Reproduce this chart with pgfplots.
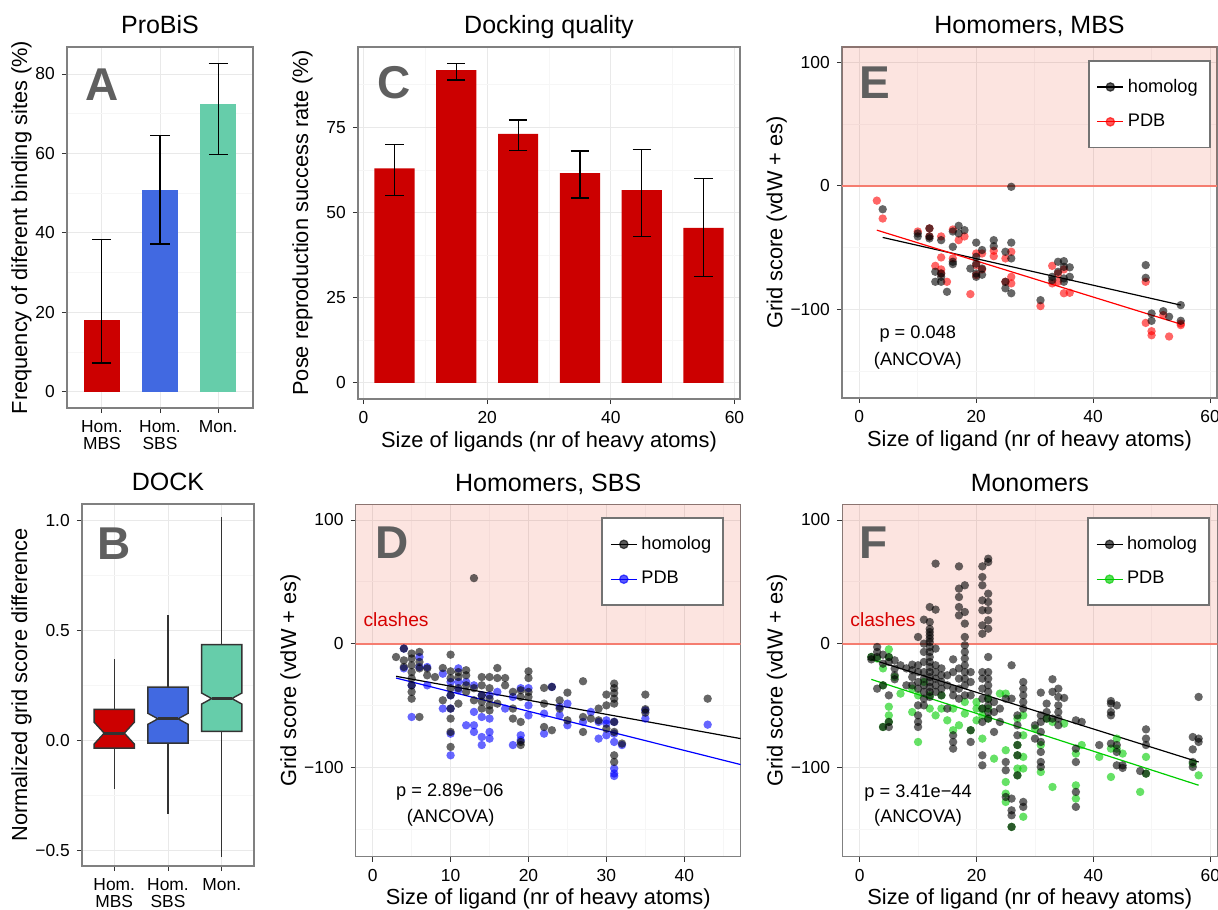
\documentclass[border=0pt]{standalone}
\usepackage{fontspec}
\setmainfont{Liberation Sans}
\usepackage{pgfplots}
\pgfplotsset{compat=1.18}

\definecolor{barred}{HTML}{CC0000}
\definecolor{boxblue}{HTML}{4169E1}
\definecolor{boxgreen}{HTML}{66CDAA}
\definecolor{clashbase}{RGB}{230,30,0}
\definecolor{clashline}{RGB}{245,125,112}
\definecolor{clashtext}{RGB}{214,0,0}
\definecolor{gridmaj}{RGB}{233,233,233}
\definecolor{gridmin}{RGB}{246,246,246}
\definecolor{pdbgreen}{RGB}{0,205,0}
\definecolor{letter}{RGB}{95,95,95}

\newcommand{\tickfont}{\fontsize{8.7}{8.8}\selectfont}
\newcommand{\labfont}{\fontsize{10.9}{12}\selectfont}
\newcommand{\titfont}{\fontsize{12.5}{14}\selectfont}
\newcommand{\annfont}{\fontsize{9.1}{10}\selectfont}
\newcommand{\bigfont}{\fontsize{23}{23}\selectfont\bfseries}

\pgfplotsset{
  gg/.style={
    scale only axis, anchor=south west,
    axis line style={draw=black!50, line width=0.6pt},
    tick pos=left,
    tick align=outside, major tick length=2.6pt, minor tick length=0pt,
    major tick style={draw=black!80, line width=0.5pt},
    tick label style={font=\tickfont, text=black},
    /pgf/number format/assume math mode=true,
    label style={font=\labfont},
    xlabel style={yshift=3pt},
    every axis title shift=0pt,
    title style={font=\titfont, at={(0.5,1)}, anchor=base, yshift=6.5pt},
    grid=both,
    major grid style={draw=gridmaj, line width=0.5pt},
    minor grid style={draw=gridmin, line width=0.4pt},
  },
  score/.style={gg,
    ylabel style={yshift=-5pt},
    ymin=-172.3, ymax=112.7,
    ytick={-100,0,100}, yticklabels={−100,0,100}, minor ytick={-150,-50,50},
    xlabel={Size of ligand (nr of heavy atoms)},
    ylabel={Grid score (vdW + es)},
    legend cell align=left,
    legend style={draw=black!55, line width=0.9pt, fill=white, font=\annfont,
      inner xsep=4pt, inner ysep=7pt, row sep=5.5pt, anchor=north east},
    legend image code/.code={
      \draw[##1, line width=0.6pt] (0pt,0pt) -- (13pt,0pt);
      \fill[##1, opacity=0.65] (6.5pt,0pt) circle (2.1pt);
    },
  },
  pts/.style={only marks, mark=*, mark size=2.1pt, color=#1,
    mark options={solid, fill=#1, fill opacity=0.6, draw opacity=0}, forget plot},
  reg/.style={#1, line width=0.6pt, mark=none},
  errs/.style={draw=none, mark=none, forget plot,
    error bars/.cd, y dir=both, y explicit, error mark=|,
    error bar style={draw=black, line width=0.6pt},
    error mark options={draw=black, line width=0.6pt, mark size=#1}},
}

\begin{document}
\begin{tikzpicture}
\path[use as bounding box] (0,0) rectangle (609pt,454.5pt);

% ---------------- A: ProBiS
\begin{axis}[gg, at={(33.5pt,250.5pt)}, width=93pt, height=180.5pt,
  ylabel style={yshift=-5pt},
  xmin=0.4, xmax=3.6, ymin=-4.1, ymax=86.8,
  xtick={1,2,3}, xticklabels={{Hom.\\MBS},{Hom.\\SBS},{Mon.}},
  xticklabel style={align=center},
  ytick={0,20,40,60,80}, minor ytick={10,30,50,70},
  ylabel={Frequency of diferent binding sites (\%)}, title={ProBiS}]
\addplot[ybar, bar width=0.63, bar shift=0pt, fill=barred, draw=none] coordinates {(1,18.1)};
\addplot[ybar, bar width=0.63, bar shift=0pt, fill=boxblue, draw=none] coordinates {(2,50.9)};
\addplot[ybar, bar width=0.63, bar shift=0pt, fill=boxgreen, draw=none] coordinates {(3,72.4)};
\addplot[errs=4.8pt] table[x=x, y=y, y error plus=ep, y error minus=em] {
x y    ep   em
1 18.1 20.3 10.85
2 50.9 13.6 13.7
3 72.4 10.3 12.7
};
\node[font=\bigfont, text=letter] at (rel axis cs:0.187,0.895) {A};
\end{axis}

% ---------------- C: Docking quality
\begin{axis}[gg, at={(179pt,255pt)}, width=191pt, height=176pt,
  xmin=-0.9, xmax=60.9, ymin=-4.7, ymax=98.6,
  xtick={0,20,40,60}, minor xtick={10,30,50},
  ytick={0,25,50,75}, minor ytick={12.5,37.5,62.5,87.5},
  xlabel={Size of ligands (nr of heavy atoms)},
  ylabel={Pose reproduction success rate (\%)}, title={Docking quality}]
\addplot[ybar, bar width=6.5, bar shift=0pt, fill=barred, draw=none] coordinates {
  (5,63.0) (15,91.8) (25,73.1) (35,61.6) (45,56.6) (55,45.5)};
\addplot[errs=4.6pt] table[x=x, y=y, y error plus=ep, y error minus=em] {
x  y    ep   em
5  63.0 7.1  8.0
15 91.8 2.0  2.9
25 73.1 4.1  4.9
35 61.6 6.5  7.3
45 56.6 12.0 13.5
55 45.5 14.5 14.3
};
\node[font=\bigfont, text=letter] at (rel axis cs:0.094,0.90) {C};
\end{axis}

% ---------------- E: Homomers, MBS
\begin{axis}[score, at={(421pt,255.5pt)}, width=187.5pt, height=175.5pt,
  xmin=-2.96, xmax=61.2, ymin=-171.8, ymax=112.4,
  xtick={0,20,40,60}, minor xtick={10,30,50},
  legend style={at={(0.983,0.963)}},
  title={Homomers, MBS}]
\addplot[draw=none, fill=clashbase, fill opacity=0.12, forget plot] coordinates {(-5,0) (65,0) (65,130) (-5,130)} -- cycle;
\addplot[clashline, line width=0.9pt, forget plot] coordinates {(-5,0) (65,0)};
\addplot[pts=red] coordinates {
(3,-12) (4,-26.5) (10,-37) (12,-34.5) (12,-41) (13,-64.8) (14,-41) (14,-58) (14,-67.7) (14,-71)
(15,-77.7) (16,-35.4) (16,-58.8) (17,-44) (18,-41) (19,-87.7) (20,-54.8) (20,-64.2) (20,-72.3)
(21,-54.8) (21,-67.7) (23,-52.6) (23,-57) (25,-58.8) (25,-77.7) (26,-53.4) (26,-73.7) (26,-79)
(31,-97.4) (33,-64.8) (33,-79) (34,-71) (34,-77.7) (35,-87) (35,-67.7) (36,-86.6) (49,-77.7)
(49,-111) (50,-117.7) (50,-121) (52,-104.7) (53,-122) (55,-112.8) (55,-111.5)};
\addplot[pts=black] coordinates {
(4,-19) (26,-0.8) (10,-41) (10,-38.6) (12,-34.5) (12,-41) (12,-42.6) (13,-69.6) (13,-77.7)
(14,-44) (14,-71) (14,-73.7) (14,-77.7) (15,-85.8) (16,-49.4) (16,-61.5) (16,-63.4) (16,-37)
(17,-32.4) (17,-38.6) (18,-35.9) (19,-67) (20,-46) (20,-57.5) (20,-63) (20,-71) (20,-73.7)
(21,-52) (21,-67) (21,-72) (23,-44) (23,-48.9) (25,-53.4) (25,-77.7) (25,-83) (26,-46)
(26,-58.8) (26,-87) (31,-92.6) (33,-73.7) (33,-76.4) (34,-61.5) (34,-69.6) (35,-61) (35,-65.6)
(35,-77.7) (35,-75) (36,-66) (36,-73.7) (49,-64.2) (49,-74.5) (50,-103.4) (50,-109.3)
(52,-101.5) (53,-106) (55,-96.6) (55,-109.3)};
\addplot[reg=black] coordinates {(4,-41.8) (55,-96.6)};
\addlegendentry{homolog}
\addplot[reg=red] coordinates {(3,-35.9) (55,-112)};
\addlegendentry{PDB}
\node[font=\annfont] at (axis cs:10,-120) {p = 0.048};
\node[font=\annfont] at (axis cs:10,-141.5) {(ANCOVA)};
\node[font=\bigfont, text=letter] at (rel axis cs:0.088,0.897) {E};
\end{axis}

% ---------------- B: DOCK
\begin{axis}[gg, at={(41pt,21.5pt)}, width=86pt, height=181pt,
  ylabel style={yshift=-5pt},
  xmin=0.4, xmax=3.6, ymin=-0.57, ymax=1.073,
  xtick={1,2,3}, xticklabels={{Hom.\\MBS},{Hom.\\SBS},{Mon.}},
  xticklabel style={align=center},
  ytick={-0.5,0,0.5,1}, yticklabels={−0.5,0.0,0.5,1.0},
  minor ytick={-0.25,0.25,0.75},
  ylabel={Normalized grid score difference}, title={DOCK}]
\addplot[black!80, line width=0.6pt] coordinates {(1,-0.22) (1,0.371)};
\addplot[black!80, line width=0.6pt] coordinates {(2,-0.333) (2,0.57)};
\addplot[black!80, line width=0.6pt] coordinates {(3,-0.527) (3,1.015)};
\addplot[fill=barred, draw=black!80, line width=0.7pt] coordinates {
  (0.625,-0.035) (0.625,-0.017) (0.8125,0.033) (0.625,0.083) (0.625,0.141)
  (1.375,0.141) (1.375,0.083) (1.1875,0.033) (1.375,-0.017) (1.375,-0.035)} -- cycle;
\addplot[fill=boxblue, draw=black!80, line width=0.7pt] coordinates {
  (1.625,-0.012) (1.625,0.073) (1.8125,0.098) (1.625,0.123) (1.625,0.242)
  (2.375,0.242) (2.375,0.123) (2.1875,0.098) (2.375,0.073) (2.375,-0.012)} -- cycle;
\addplot[fill=boxgreen, draw=black!80, line width=0.7pt] coordinates {
  (2.625,0.041) (2.625,0.165) (2.8125,0.19) (2.625,0.215) (2.625,0.435)
  (3.375,0.435) (3.375,0.215) (3.1875,0.19) (3.375,0.165) (3.375,0.041)} -- cycle;
\addplot[black!80, line width=1.4pt] coordinates {(0.8125,0.033) (1.1875,0.033)};
\addplot[black!80, line width=1.4pt] coordinates {(1.8125,0.098) (2.1875,0.098)};
\addplot[black!80, line width=1.4pt] coordinates {(2.8125,0.19) (3.1875,0.19)};
\node[font=\bigfont, text=letter] at (rel axis cs:0.188,0.89) {B};
\end{axis}

% ---------------- D: Homomers, SBS
\begin{axis}[score, at={(177.85pt,26.15pt)}, width=192.5pt, height=176.2pt,
  xmin=-2.18, xmax=47.24,
  xtick={0,10,20,30,40}, minor xtick={5,15,25,35,45},
  legend style={at={(0.957,0.963)}},
  title={Homomers, SBS}]
\addplot[draw=none, fill=clashbase, fill opacity=0.12, forget plot] coordinates {(-5,0) (50,0) (50,130) (-5,130)} -- cycle;
\addplot[clashline, line width=0.9pt, forget plot] coordinates {(-5,0) (50,0)};
\addplot[pts=blue] coordinates {
(4,-4) (4,-20) (5,-33.7) (5,-59.3) (6,-10.8) (6,-18.9) (7,-18.9) (7,-33.7) (9,-24.3) (9,-52.5)
(10,-31) (10,-41.8) (10,-52.5) (10,-72.8) (10,-90.3) (11,-20) (11,-31) (11,-37.7) (12,-31) (12,-66)
(13,-33.7) (13,-55.2) (13,-66) (13,-71.4) (14,-41.8) (14,-59.3) (14,-75.5) (14,-82) (15,-41.8)
(15,-60.6) (15,-71.4) (15,-76.8) (16,-39) (17,-52.5) (18,-43.1) (18,-82) (19,-36) (19,-74.1)
(19,-78) (20,-36) (20,-49.9) (20,-58) (22,-56.6) (22,-72.8) (23,-35) (24,-51) (24,-58) (25,-48.5)
(25,-66) (27,-63.3) (28,-55.2) (29,-63.3) (29,-76.8) (30,-62) (30,-64.7) (30,-74.1) (31,-63.3)
(31,-72.8) (31,-79.5) (31,-101) (31,-105) (31,-107) (32,-82) (35,-60.6) (35,-54) (43,-65.5)};
\addplot[pts=black] coordinates {
(3,-10.8) (4,-4) (4,-13.5) (4,-18.9) (5,-8) (5,-12) (5,-17.5) (5,-23) (5,-28) (5,-33.7) (5,-39)
(5,-44.5) (6,-59.3) (6,-6.7) (6,-14.8) (6,-20) (7,-20) (7,-25.6) (8,-27) (9,-19.7) (9,-45.8)
(10,-8.9) (10,-22.4) (10,-28) (10,-36) (10,-41.8) (10,-52.5) (10,-60.6) (10,-71.4) (10,-83.5)
(11,-23) (11,-27) (11,-36) (11,-48.5) (12,-21.5) (12,-25.6) (12,-33.7) (12,-39) (13,-36)
(13,-45.8) (13,53) (14,-27) (14,-33.7) (14,-41.8) (14,-47) (14,-52.5) (15,-27) (15,-36)
(15,-44.5) (15,-49.9) (15,-54) (16,-19.7) (16,-27.8) (16,-48.5) (17,-27.8) (17,-33.7) (18,-39)
(18,-52.5) (18,-60.6) (19,-37.7) (19,-43.1) (19,-63.3) (19,-79.5) (19,-82) (20,-22.4) (20,-27.8)
(20,-39) (20,-43.1) (22,-35.8) (22,-48.5) (22,-67.4) (23,-70) (23,-35) (24,-45.8) (24,-52.5)
(25,-39.6) (25,-62) (27,-30.4) (27,-59.3) (27,-71.4) (28,-60.6) (29,-52.5) (29,-62) (30,-41.2)
(30,-49.9) (30,-68.7) (31,-32.3) (31,-36) (31,-40) (31,-44.5) (31,-48.5) (31,-63.3) (31,-71.4)
(31,-90.3) (31,-95.7) (32,-80.8) (35,-41.2) (35,-53) (35,-55.8) (43,-44.5)};
\addplot[reg=black] coordinates {(3,-26.4) (47.24,-76.8)};
\addlegendentry{homolog}
\addplot[reg=blue] coordinates {(3,-27.8) (47.24,-97.8)};
\addlegendentry{PDB}
\node[font=\fontsize{9.6}{10}\selectfont, text=clashtext] at (axis cs:3.0,19.4) {clashes};
\node[font=\annfont] at (axis cs:9.9,-120) {p = 2.89e−06};
\node[font=\annfont] at (axis cs:10,-141) {(ANCOVA)};
\node[font=\bigfont, text=letter] at (rel axis cs:0.094,0.892) {D};
\end{axis}

% ---------------- F: Monomers
\begin{axis}[score, at={(421.15pt,26.15pt)}, width=187.5pt, height=176.2pt,
  xmin=-2.96, xmax=61.2,
  xtick={0,20,40,60}, minor xtick={10,30,50},
  legend style={at={(0.98,0.963)}},
  title={Monomers}]
\addplot[draw=none, fill=clashbase, fill opacity=0.12, forget plot] coordinates {(-5,0) (65,0) (65,130) (-5,130)} -- cycle;
\addplot[clashline, line width=0.9pt, forget plot] coordinates {(-5,0) (65,0)};
\addplot[pts=pdbgreen] coordinates {
(2,-10.8) (3,-12) (4,-20) (4,-33.7) (4,-67.4) (5,-4.6) (5,-10.8) (5,-51) (5,-58) (5,-63.3)
(6,-27) (7,-40.4) (9,-36.4) (9,-55.3) (10,-79.5) (10,-41.8) (11,-31) (12,-41.8) (12,-52.5)
(13,-58) (14,-41.8) (14,-52.5) (15,-62) (16,-70) (16,-52.5) (17,-66) (18,-47.2) (18,-56.6)
(19,-70) (20,-52.5) (20,-62) (20,-47.2) (21,-76.8) (21,-58) (21,-52.5) (22,-60.6) (22,-52.5)
(22,-44.5) (23,-93) (24,-40.4) (25,-86.2) (25,-111.9) (25,-121.3) (25,-128) (25,-40.4)
(26,-148.2) (27,-82) (27,-90.3) (27,-101) (27,-106.5) (27,-60.6) (28,-74.1) (28,-91.6)
(28,-101) (28,-140) (28,-58) (30,-68.7) (31,-103.8) (31,-82) (32,-60.6) (33,-115.9) (33,-63.3)
(35,-64.7) (37,-88.9) (37,-114.6) (37,-125.3) (38,-82) (41,-91.6) (43,-84.9) (43,-107.8)
(44,-76.8) (44,-84.9) (45,-88.9) (48,-119.9) (49,-91.6) (49,-105.1) (57,-97) (58,-106.5)};
\addplot[pts=black] coordinates {
(2,-10.8) (2,-12.7) (3,-2.7) (3,-6.7) (3,-10.8) (3,-36.4) (4,-8.9) (4,-16.2) (4,-33.7) (4,-67.4)
(5,-10.8) (5,-14.8) (5,-41.8) (5,-63.3) (5,-67.4) (6,-13.5) (6,-20.2) (6,-25.6) (6,-28.8)
(7,-17.5) (8,-20) (8,-33.7) (9,-17) (9,-21.5) (9,-27) (9,-33.7) (10,5.4) (10,-17.5) (10,-23)
(10,-31) (10,-36.4) (10,-49.9) (10,-58) (10,-63.3) (10,-67.4) (11,19.4) (11,0) (11,-6.7)
(11,-14.8) (11,-23) (11,-28.3) (11,-33.7) (11,-39) (11,-44.5) (11,-49.9) (12,29.6) (12,17.5)
(12,12) (12,9.4) (12,6.7) (12,4) (12,1.3) (12,-2.7) (12,-6.7) (12,-10.8) (12,-14.8) (12,-18.9)
(12,-23) (12,-27) (12,-31) (12,-35) (12,-39) (12,-43.1) (13,64.7) (13,27.5) (13,-4) (13,-17.5)
(13,-23) (13,-28.3) (13,-33.7) (13,-39) (14,-20) (14,-25.6) (14,-31) (14,-36.4) (14,-41.8)
(15,-25.6) (15,-33.7) (15,-52.5) (16,-12.7) (16,-23) (16,-36.4) (16,-41.8) (16,-74.1) (16,-79.5)
(16,-84.9) (17,62.5) (17,44.5) (17,37.7) (17,29.6) (17,22.9) (17,-20) (17,-28.3) (17,-36.4)
(17,-44.5) (18,47.2) (18,25.6) (18,16.2) (18,5.4) (18,-1.3) (18,-6.7) (18,-12) (18,-17.5)
(18,-23) (18,-28.3) (18,-33.7) (18,-41.8) (19,-23) (19,-31) (19,-41.8) (19,-79.5) (19,-70)
(21,62.5) (21,53.9) (21,47.2) (21,35) (21,27) (21,14.8) (21,8) (21,-23) (21,-28.3) (21,-36.4)
(21,-44.5) (21,-52.5) (21,-63.3) (21,-90.3) (21,-98.4) (22,68.7) (22,66) (22,40.4) (22,33.7)
(22,27) (22,18.9) (22,12.1) (22,-10.8) (22,-23) (22,-28.3) (22,-33.7) (22,-39) (22,-44.5)
(22,-49.9) (22,-55.3) (22,-60.6) (23,-47.2) (23,-55.3) (23,-71.4) (24,-52.5) (24,-63.3)
(25,-44.5) (25,-95.7) (25,-102.4) (25,-124) (26,-17.5) (26,-44.5) (26,-125.3) (26,-134.8)
(26,-138.8) (26,-148.2) (27,-58) (27,-66) (27,-74.1) (27,-82) (27,-90.3) (27,-106.5) (28,-31)
(28,-36.4) (28,-41.8) (28,-47.2) (28,-52.5) (28,-128) (28,-132) (30,-66) (30,-76.8) (31,-39.6)
(31,-58) (31,-63.3) (31,-71.4) (31,-79.5) (31,-87.6) (31,-95.7) (31,-99.7) (32,-48.5) (32,-55.3)
(32,-60.6) (33,-28.8) (33,-39) (33,-60.6) (34,-36.4) (34,-43.1) (34,-49.9) (34,-55.3) (34,-60.6)
(34,-66) (35,-43.9) (37,-62) (37,-84.9) (37,-95.7) (37,-119.9) (37,-132) (38,-63.3) (41,-82)
(43,-46.4) (43,-48.5) (43,-55.3) (43,-58) (43,-80.8) (44,-49.9) (44,-82) (44,-87.6) (44,-98.4)
(45,-98.4) (45,-100.5) (48,-103) (49,-69.3) (49,-76.8) (49,-82) (49,-105.1) (57,-75.5)
(57,-85.5) (57,-95.7) (57,-99.7) (58,-43.1) (58,-76.8) (58,-79.5)};
\addplot[reg=black] coordinates {(2,-12.7) (58,-95.7)};
\addlegendentry{homolog}
\addplot[reg=pdbgreen] coordinates {(2,-28.9) (58,-114.5)};
\addlegendentry{PDB}
\node[font=\fontsize{9.6}{10}\selectfont, text=clashtext] at (axis cs:4.0,19.4) {clashes};
\node[font=\annfont] at (axis cs:10,-120.5) {p = 3.41e−44};
\node[font=\annfont] at (axis cs:10,-141) {(ANCOVA)};
\node[font=\bigfont, text=letter] at (rel axis cs:0.083,0.892) {F};
\end{axis}
\end{tikzpicture}
\end{document}
